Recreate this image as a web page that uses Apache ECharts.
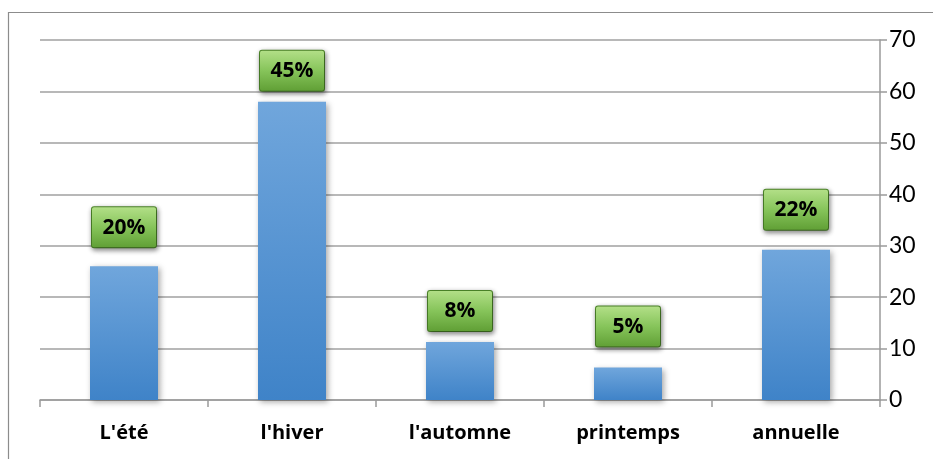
<!DOCTYPE html>
<html>
<head>
<meta charset="utf-8">
<script src="https://cdn.jsdelivr.net/npm/echarts@6/dist/echarts.min.js"></script>
<style>
  html, body { margin: 0; padding: 0; background: #ffffff; }
  #chart { width: 933px; height: 459px; }
</style>
</head>
<body>
<div id="chart"></div>
<script>
// Seasons on the category axis
const categories = ["L'été", "l'hiver", "l'automne", "printemps", "annuelle"];
// Bar heights, right-hand scale
const values = [26, 58, 11.3, 6.3, 29.2];
// Share shown in the green tag above each bar
const shares = ["20%", "45%", "8%", "5%", "22%"];
// Right axis tick range
const yMin = 0, yMax = 70, yStep = 10;

const chart = echarts.init(document.getElementById('chart'));

const font = '"Open Sans", Lato, "Liberation Sans", sans-serif';
const numFont = 'Lato, "Open Sans", sans-serif';

// gap in px between each bar top and its tag
const tagGap = [19, 11, 11, 21, 20];

const tagStyle = {
  show: true,
  position: 'top',
  formatter: (p) => shares[p.dataIndex],
  color: '#000',
  fontFamily: font,
  fontWeight: 'bold',
  fontSize: 21,
  width: 56,
  height: 33,
  lineHeight: 33,
  align: 'center',
  padding: [4, 4, 3, 4],
  backgroundColor: new echarts.graphic.LinearGradient(0, 0, 0, 1, [
    { offset: 0, color: '#b4e089' },
    { offset: 0.5, color: '#86c45a' },
    { offset: 1, color: '#5f9e34' }
  ]),
  borderColor: '#4f8a2a',
  borderWidth: 1,
  borderRadius: 2,
  shadowColor: 'rgba(0,0,0,0.45)',
  shadowBlur: 5,
  shadowOffsetX: 1,
  shadowOffsetY: 2
};

chart.setOption({
  animation: false,
  backgroundColor: '#ffffff',
  graphic: [{
    type: 'rect',
    left: 6, top: 10,
    shape: { width: 960, height: 500 },
    style: { fill: 'none', stroke: '#8c8c8c', lineWidth: 1.2 },
    z: -1
  }],
  grid: { left: 40, right: 53, top: 40, bottom: 59, containLabel: false },
  xAxis: {
    type: 'category',
    data: categories,
    axisLine: { show: true, lineStyle: { color: '#9a9a9a', width: 1.5 } },
    axisTick: { show: true, length: 7, lineStyle: { color: '#9a9a9a', width: 1.5 } },
    axisLabel: {
      color: '#000', fontFamily: font, fontWeight: 'bold', fontSize: 20, margin: 23
    },
    splitLine: { show: false }
  },
  yAxis: {
    type: 'value',
    position: 'right',
    min: yMin, max: yMax, interval: yStep,
    axisLine: { show: true, lineStyle: { color: '#9a9a9a', width: 1.5 } },
    axisTick: { show: true, inside: false, length: 7, lineStyle: { color: '#9a9a9a', width: 1.5 } },
    axisLabel: { color: '#000', fontFamily: numFont, fontSize: 23, margin: 9 },
    splitLine: { show: true, lineStyle: { color: '#a0a0a0', width: 1.5 } }
  },
  series: [{
    type: 'bar',
    data: values.map((v, i) => ({ value: v, label: { distance: tagGap[i] } })),
    barWidth: 68,
    itemStyle: {
      color: new echarts.graphic.LinearGradient(0, 0, 0, 1, [
        { offset: 0, color: '#70a6dc' },
        { offset: 1, color: '#3f83c8' }
      ]),
      shadowColor: 'rgba(0,0,0,0.35)',
      shadowBlur: 6,
      shadowOffsetX: 2,
      shadowOffsetY: 2
    },
    label: tagStyle
  }]
});
</script>
</body>
</html>
